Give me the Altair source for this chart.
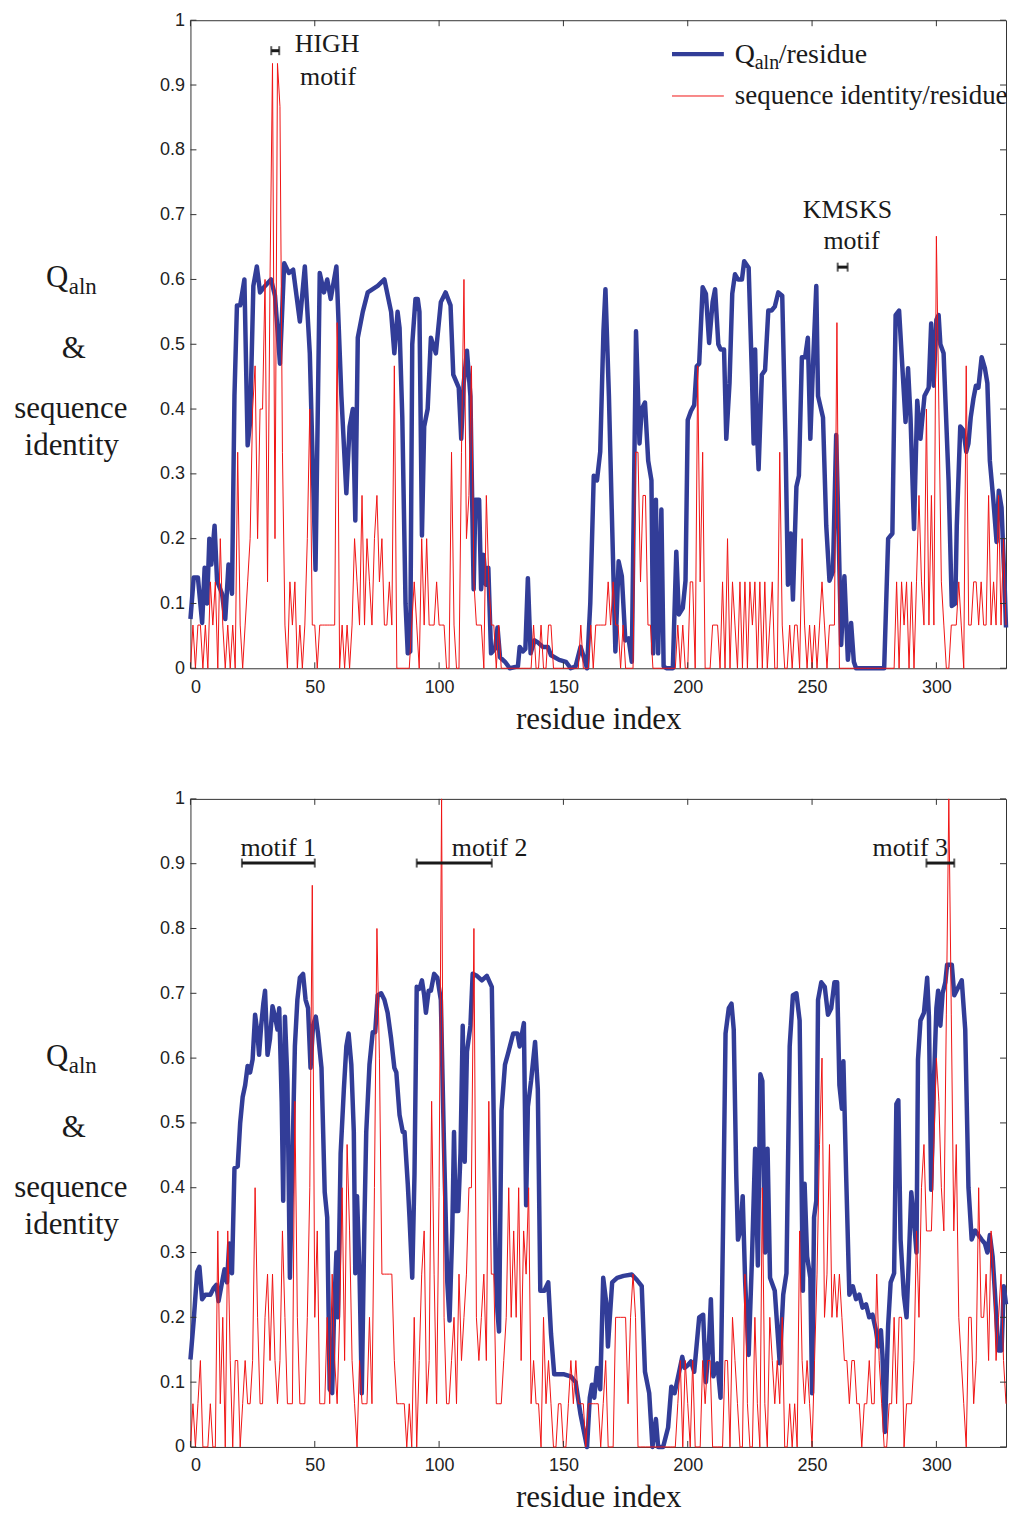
import altair as alt
import pandas as pd

# ---------------- data ----------------
N_RES = 329
residues = list(range(N_RES))

# top panel: Q_aln per residue (blue)
top_q_x = [0, 1.3, 3, 4.7, 5.7, 6.7, 7.6, 8.4, 9.7, 10.7, 12.7, 14, 15.3, 16.7, 17.7, 18.7, 20, 21.7, 23, 24,
           25.3, 26.7, 28, 30, 32.4, 34, 36, 37.7, 39.6, 41.3, 44, 46, 48, 50.3, 52, 53.7, 55, 56.4, 58.7, 60.7,
           62.7, 64, 65.3, 66.3, 67.3, 69.3, 71.3, 73.3, 75.3, 78, 80.7, 82, 83.3, 84.1, 85.2, 86.5, 87.4, 88.4, 89.2, 90.5,
           91.4, 92.1, 93.1, 94, 95.4, 96.7, 98.7, 100.7, 102.6, 104.6, 105.7, 107.9, 108.9, 109.9, 111.2, 112.6, 113.9, 114.6, 116.1, 116.9,
           117.9, 118.8, 119.8, 120.9, 122.5, 123.5, 124.5, 126.5, 128.4, 131.7, 132.4, 133.7, 134.7, 135.7, 136.8, 138.4, 139.7, 141.7, 143.7, 145,
           148.3, 151, 152.9, 154.9, 156.9, 158.2, 159.5, 160.8, 162.2, 163.5, 164.8, 166.1, 166.9, 168.3, 169.6, 170.9, 172.2, 173.5, 174.9, 176.2,
           177.5, 179.2, 180.6, 181.5, 182.8, 184.1, 185.4, 186.1, 187.2, 188.1, 189.4, 190.3, 191.4, 194, 195.4, 196.4, 198, 199.1, 200, 201.3,
           202.6, 203.6, 204.6, 206, 207.3, 208.6, 210, 211, 212.3, 213.2, 214.6, 215.5, 216.8, 217.9, 219, 220.2, 221.8, 222.7, 224.5, 225.8,
           226.5, 227.1, 227.8, 228.5, 229.8, 231.1, 232.4, 233.7, 235, 236.4, 238, 239.3, 240.3, 241.4, 242.3, 243.7, 244.7, 245.9, 247.2, 248.3,
           249.3, 250.4, 251.7, 252.4, 254.4, 255.7, 257, 258.4, 259.7, 260.6, 261.7, 263, 264.4, 265.7, 266.8, 267.7, 279, 280.6, 282.3, 283.6,
           285, 286.3, 287.6, 288.6, 289.6, 291, 292.3, 293.6, 295.2, 296.9, 297.9, 298.9, 300, 300.9, 301.6, 302.9, 304.9, 306.2, 307.6, 308.2,
           309.6, 310.9, 312, 312.9, 313.8, 314.9, 315.9, 316.9, 318.2, 319.5, 320.5, 321.5, 322.9, 324.2, 325.1, 326.2, 327.5, 328]
top_q_y = [0.076, 0.14, 0.14, 0.07, 0.155, 0.1, 0.2, 0.16, 0.22, 0.135, 0.115, 0.076, 0.16, 0.115, 0.42, 0.56, 0.56, 0.6, 0.344, 0.38,
           0.59, 0.62, 0.58, 0.59, 0.6, 0.575, 0.47, 0.625, 0.61, 0.615, 0.535, 0.62, 0.486, 0.152, 0.61, 0.58, 0.6, 0.57, 0.62, 0.42,
           0.27, 0.373, 0.4, 0.228, 0.51, 0.55, 0.58, 0.585, 0.59, 0.6, 0.55, 0.486, 0.55, 0.525, 0.387, 0.1, 0.023, 0.026, 0.5, 0.57,
           0.57, 0.55, 0.205, 0.373, 0.4, 0.51, 0.486, 0.565, 0.58, 0.56, 0.453, 0.433, 0.354, 0.44, 0.49, 0.42, 0.122, 0.26, 0.26, 0.122,
           0.175, 0.129, 0.155, 0.023, 0.03, 0.063, 0.017, 0.01, 0, 0.003, 0.033, 0.026, 0.03, 0.139, 0.023, 0.043, 0.04, 0.033, 0.033, 0.02,
           0.013, 0.01, 0, 0.003, 0.033, 0.017, 0, 0.1, 0.297, 0.29, 0.334, 0.52, 0.585, 0.42, 0.22, 0.026, 0.165, 0.142, 0.043, 0.046,
           0.01, 0.52, 0.347, 0.4, 0.41, 0.32, 0.29, 0.023, 0.26, 0.023, 0.245, 0.003, 0, 0, 0.18, 0.083, 0.093, 0.135, 0.383, 0.397,
           0.406, 0.466, 0.47, 0.588, 0.578, 0.502, 0.565, 0.585, 0.5, 0.492, 0.492, 0.354, 0.44, 0.578, 0.608, 0.6, 0.6, 0.628, 0.618, 0.453,
           0.347, 0.492, 0.37, 0.307, 0.453, 0.46, 0.552, 0.552, 0.558, 0.58, 0.575, 0.354, 0.129, 0.208, 0.106, 0.28, 0.297, 0.48, 0.48, 0.51,
           0.354, 0.47, 0.59, 0.42, 0.387, 0.22, 0.135, 0.149, 0.36, 0.22, 0.036, 0.142, 0.013, 0.07, 0.01, 0, 0, 0.2, 0.208, 0.545,
           0.552, 0.466, 0.38, 0.463, 0.387, 0.215, 0.413, 0.354, 0.42, 0.433, 0.532, 0.436, 0.538, 0.545, 0.5, 0.486, 0.29, 0.096, 0.1, 0.22,
           0.373, 0.367, 0.334, 0.347, 0.387, 0.416, 0.436, 0.433, 0.48, 0.463, 0.44, 0.32, 0.26, 0.195, 0.274, 0.248, 0.122, 0.063]

# top panel: sequence identity per residue, in fifteenths (red)
top_id_k = [0, 1, 0, 1, 1, 0, 1, 0, 2, 1,
            2, 0, 3, 1, 0, 1, 0, 1, 0, 5,
            1, 0, 1, 2, 3, 6, 7, 3, 6, 6,
            9, 2, 9, 14, 3, 14, 13, 5, 1, 0,
            2, 1, 2, 0, 1, 0, 1, 3, 6, 1,
            1, 0, 1, 1, 1, 1, 1, 1, 1, 8,
            0, 1, 0, 1, 0, 1, 3, 2, 1, 4,
            1, 3, 2, 1, 3, 4, 2, 3, 1, 1,
            2, 1, 7, 0, 0, 0, 0, 0, 0, 1,
            2, 1, 0, 3, 1, 3, 1, 1, 1, 2,
            1, 1, 1, 0, 0, 5, 1, 0, 0, 5,
            9, 3, 4, 7, 2, 1, 1, 1, 0, 4,
            2, 1, 1, 0, 1, 0, 0, 0, 0, 0,
            0, 0, 0, 0, 0, 0, 0, 0, 1, 0,
            0, 1, 0, 0, 1, 1, 0, 0, 0, 0,
            0, 0, 0, 0, 0, 0, 0, 1, 0, 0,
            0, 1, 0, 1, 1, 1, 1, 1, 2, 1,
            2, 1, 1, 0, 1, 0, 0, 0, 0, 5,
            5, 2, 4, 4, 1, 1, 0, 0, 0, 0,
            0, 0, 0, 0, 0, 0, 1, 0, 1, 0,
            0, 2, 2, 0, 7, 2, 5, 0, 0, 0,
            1, 1, 1, 0, 2, 0, 3, 0, 2, 1,
            0, 2, 0, 2, 0, 2, 1, 2, 0, 2,
            0, 2, 0, 1, 2, 0, 0, 5, 1, 0,
            0, 1, 0, 1, 1, 0, 3, 1, 0, 1,
            0, 1, 0, 1, 2, 1, 0, 1, 1, 1,
            8, 0, 0, 0, 0, 0, 0, 0, 0, 0,
            0, 0, 0, 0, 0, 0, 0, 0, 0, 0,
            0, 0, 0, 0, 2, 0, 2, 1, 2, 0,
            2, 0, 2, 4, 2, 1, 6, 1, 4, 1,
            10, 6, 2, 1, 0, 0, 1, 1, 1, 2,
            1, 0, 7, 1, 1, 2, 2, 1, 2, 1,
            1, 4, 1, 2, 1, 4, 1, 3, 1]

# bottom panel: Q_aln per residue (blue)
bot_q_x = [0, 1.3, 2.7, 3.6, 4.7, 6, 8, 9.3, 10.4, 11.3, 12.7, 13.7, 14.7, 15.6, 16.7, 17.7, 19, 20, 21, 22,
           23, 24, 25, 26, 26.9, 27.6, 28.4, 29.3, 30, 31, 32, 33, 34, 35, 35.7, 36.7, 37.3, 38, 39, 40,
           41, 42, 43, 44, 45.3, 46.3, 47.3, 48.3, 49.3, 50.4, 51.3, 52.7, 54, 55, 56, 57, 57.7, 58.7, 59.3, 60.4,
           61.7, 62.7, 63.6, 64.7, 65.7, 66.3, 67, 68, 68.9, 70, 70.7, 72, 73.3, 74.3, 75.3, 76.7, 78, 79.3, 80.7, 82,
           82.8, 84.1, 85.4, 86.1, 87.4, 88.1, 89.2, 90.1, 91, 92.1, 93.1, 94, 94.7, 95.8, 96.7, 98, 99.3, 100.7, 102, 103.3,
           104.2, 105.3, 106, 106.6, 107.7, 108.6, 109.5, 110.3, 111.2, 112.6, 113.5, 115.2, 117.2, 119.2, 121.2, 121.8, 122.8, 123.5, 124.1, 125.1,
           126.5, 127.8, 129.8, 131.5, 132.4, 134.1, 135, 135.7, 137, 138.6, 139.7, 140.7, 142.3, 143.9, 145, 146.3, 150.3, 152.9, 154.9, 156.9,
           159.5, 160.6, 161.5, 162.4, 163.5, 164.8, 166, 167.3, 167.9, 169.6, 171.6, 174.2, 177.5, 179.5, 181.5, 182.8, 184.5, 185.8, 187.2, 188.1,
           190.1, 192.1, 193.4, 194.7, 196, 197.8, 198.7, 200, 201.3, 202.6, 204.6, 206.2, 207.3, 208.6, 209.3, 210.3, 211.9, 213.2, 214.2, 215.2,
           216.5, 217.6, 218.5, 219.5, 220.2, 221.2, 222.1, 223.1, 224.5, 225.8, 227.1, 228.2, 229.2, 230, 231.1, 232.1, 233.1, 235, 237, 238.4,
           239.7, 241, 242.3, 243.7, 245, 246.3, 247, 248, 249.3, 250, 250.8, 251.7, 252.4, 253.7, 255.1, 256.4, 257.7, 259, 260.1, 261,
           262, 262.6, 263.7, 265, 266.4, 267.7, 269, 270.3, 271.7, 273, 274.3, 275.7, 276.6, 277.7, 278.3, 279.3, 280.6, 281.6, 283, 283.9,
           284.7, 285.6, 286.9, 288, 288.9, 289.9, 290.9, 292, 292.6, 293.6, 295, 296.3, 297, 297.9, 298.9, 300, 300.7, 301.6, 302.5, 303.6,
           304.3, 306.2, 307.2, 308.5, 310.2, 311.6, 312.9, 314.2, 315.6, 316.9, 318.2, 319.5, 320.5, 321.5, 322.6, 323.5, 324.9, 326.2, 327.1, 328]
bot_q_y = [0.135, 0.195, 0.27, 0.278, 0.228, 0.235, 0.235, 0.245, 0.25, 0.225, 0.254, 0.274, 0.254, 0.314, 0.268, 0.43, 0.433, 0.5, 0.54, 0.558,
           0.588, 0.578, 0.598, 0.667, 0.64, 0.605, 0.648, 0.684, 0.704, 0.605, 0.63, 0.68, 0.664, 0.644, 0.677, 0.532, 0.38, 0.664, 0.565, 0.261,
           0.44, 0.618, 0.69, 0.724, 0.73, 0.69, 0.677, 0.585, 0.65, 0.664, 0.638, 0.585, 0.393, 0.354, 0.089, 0.083, 0.2, 0.3, 0.2, 0.453,
           0.552, 0.618, 0.638, 0.59, 0.486, 0.268, 0.387, 0.268, 0.083, 0.354, 0.486, 0.59, 0.64, 0.64, 0.697, 0.7, 0.69, 0.67, 0.63, 0.585,
           0.578, 0.512, 0.486, 0.486, 0.406, 0.354, 0.261, 0.42, 0.71, 0.707, 0.72, 0.697, 0.67, 0.704, 0.704, 0.73, 0.724, 0.69, 0.46, 0.254,
           0.195, 0.334, 0.486, 0.364, 0.364, 0.453, 0.65, 0.44, 0.61, 0.65, 0.73, 0.727, 0.72, 0.727, 0.71, 0.552, 0.268, 0.208, 0.178, 0.519,
           0.59, 0.608, 0.638, 0.638, 0.618, 0.654, 0.373, 0.525, 0.565, 0.625, 0.552, 0.241, 0.241, 0.254, 0.175, 0.112, 0.112, 0.109, 0.1, 0.05,
           0, 0.076, 0.096, 0.076, 0.122, 0.089, 0.261, 0.22, 0.155, 0.254, 0.261, 0.264, 0.266, 0.258, 0.248, 0.116, 0.083, 0, 0.043, 0,
           0, 0.03, 0.093, 0.083, 0.106, 0.139, 0.122, 0.126, 0.132, 0.116, 0.2, 0.204, 0.1, 0.165, 0.228, 0.109, 0.129, 0.076, 0.34, 0.638,
           0.677, 0.684, 0.644, 0.42, 0.32, 0.334, 0.387, 0.254, 0.142, 0.287, 0.46, 0.28, 0.575, 0.565, 0.3, 0.46, 0.261, 0.241, 0.129, 0.235,
           0.268, 0.618, 0.697, 0.7, 0.658, 0.241, 0.406, 0.294, 0.261, 0.083, 0.354, 0.38, 0.69, 0.717, 0.71, 0.667, 0.677, 0.717, 0.717, 0.558,
           0.522, 0.595, 0.42, 0.235, 0.248, 0.228, 0.235, 0.215, 0.22, 0.2, 0.204, 0.18, 0.155, 0.18, 0.142, 0.023, 0.188, 0.254, 0.268, 0.529,
           0.535, 0.32, 0.235, 0.2, 0.287, 0.393, 0.354, 0.3, 0.598, 0.658, 0.67, 0.724, 0.664, 0.397, 0.552, 0.677, 0.704, 0.65, 0.7, 0.717,
           0.744, 0.744, 0.697, 0.707, 0.72, 0.644, 0.4, 0.32, 0.334, 0.327, 0.32, 0.314, 0.3, 0.327, 0.294, 0.241, 0.149, 0.149, 0.248, 0.22]

# bottom panel: sequence identity per residue, in fifteenths (red)
bot_id_k = [0, 1, 0, 1, 2, 0, 0, 0, 1, 0,
            0, 5, 1, 3, 0, 5, 2, 0, 2, 2,
            0, 1, 2, 1, 1, 2, 6, 3, 1, 1,
            3, 4, 2, 4, 2, 1, 2, 5, 3, 1,
            1, 1, 8, 3, 1, 1, 1, 3, 6, 13,
            3, 5, 1, 1, 1, 3, 1, 4, 2, 1,
            3, 6, 2, 7, 5, 2, 1, 0, 2, 1,
            1, 1, 3, 1, 6, 12, 9, 4, 4, 4,
            4, 4, 2, 1, 1, 1, 1, 0, 1, 0,
            3, 0, 2, 4, 5, 1, 2, 8, 4, 1,
            6, 15, 3, 1, 1, 2, 3, 1, 4, 2,
            3, 4, 6, 6, 12, 3, 2, 3, 4, 2,
            8, 4, 4, 1, 1, 1, 2, 3, 6, 3,
            5, 3, 6, 2, 5, 4, 6, 1, 2, 1,
            1, 0, 3, 1, 2, 1, 0, 0, 1, 1,
            0, 0, 1, 2, 1, 2, 1, 1, 1, 0,
            1, 1, 1, 1, 1, 0, 1, 2, 0, 0,
            0, 3, 3, 3, 3, 3, 1, 3, 4, 3,
            0, 0, 0, 0, 0, 0, 0, 0, 0, 0,
            0, 0, 0, 0, 0, 0, 1, 2, 0, 2,
            1, 0, 2, 0, 0, 0, 2, 1, 2, 2,
            0, 0, 0, 0, 0, 2, 2, 0, 3, 2,
            1, 0, 0, 4, 1, 0, 0, 3, 1, 0,
            6, 1, 0, 3, 2, 1, 2, 1, 3, 0,
            0, 1, 0, 1, 0, 5, 2, 1, 2, 1,
            0, 2, 4, 7, 9, 3, 4, 7, 3, 4,
            3, 4, 3, 2, 2, 1, 2, 2, 1, 1,
            0, 1, 1, 2, 1, 1, 4, 2, 1, 0,
            0, 1, 1, 3, 1, 3, 3, 0, 1, 1,
            1, 2, 5, 3, 6, 7, 5, 5, 5, 7,
            9, 8, 6, 5, 10, 15, 10, 5, 7, 3,
            2, 1, 0, 3, 3, 1, 2, 6, 3, 3,
            4, 2, 5, 4, 2, 3, 4, 2, 1]
N_SEQ = 15

# motif ranges (residue start, end, height on the y scale)
top_motif_start = [32.5, 260.3]
top_motif_end = [35.7, 264.3]
top_motif_level = [0.953, 0.619]
bot_motif_start = [20.7, 91.0, 296.0]
bot_motif_end = [50.0, 121.2, 307.2]
bot_motif_level = [0.901, 0.901, 0.901]

x_tick_values = [0, 50, 100, 150, 200, 250, 300]
y_tick_values = [0, 0.1, 0.2, 0.3, 0.4, 0.5, 0.6, 0.7, 0.8, 0.9, 1]

# ---------------- styling ----------------
W, H = 818, 650
BLUE = "#323d98"
RED = "#f01414"
INK = "#1a1a1a"
SERIF = "Liberation Serif"
SANS = "Liberation Sans"
TICK = 6

xs = alt.Scale(domain=[0, 328], nice=False, zero=False)
ys = alt.Scale(domain=[0, 1], nice=False, zero=False)
X_AX = alt.Axis(values=x_tick_values, title="residue index", ticks=False, domain=False,
                grid=False, labelPadding=10, titlePadding=8)
Y_AX = alt.Axis(values=y_tick_values, format=".1~f", title=None, ticks=False, domain=False,
                grid=False, labelPadding=6)


def X(field):
    return alt.X(field, scale=xs, axis=X_AX)


def Y(field):
    return alt.Y(field, scale=ys, axis=Y_AX)


def text_layer(txt, px, py, size=26, align="center", baseline="alphabetic"):
    return alt.Chart(pd.DataFrame({"t": [txt]})).mark_text(
        font=SERIF, fontSize=size, color=INK, align=align, baseline=baseline
    ).encode(text="t:N", x=alt.value(px), y=alt.value(py))


def panel(q_x, q_y, id_k, m_start, m_end, m_level, extra):
    q_df = pd.DataFrame({"residue": q_x, "q": q_y})
    id_df = pd.DataFrame({"residue": residues, "identity": [k / N_SEQ for k in id_k]})
    xt = pd.DataFrame({"v": x_tick_values})
    yt = pd.DataFrame({"v": y_tick_values})
    mot = pd.DataFrame({"start": m_start, "end": m_end, "level": m_level})
    caps = pd.DataFrame({"pos": m_start + m_end, "level": m_level + m_level})

    blue = alt.Chart(q_df).mark_line(color=BLUE, strokeWidth=4.5, strokeJoin="round").encode(
        x=X("residue:Q"), y=Y("q:Q"))
    red = alt.Chart(id_df).mark_line(color=RED, strokeWidth=1).encode(
        x=X("residue:Q"), y=Y("identity:Q"))
    tick_style = dict(color="#333333", strokeWidth=1)
    t_left = alt.Chart(yt).mark_rule(**tick_style).encode(
        y=Y("v:Q"), x=alt.value(0), x2=alt.value(TICK))
    t_right = alt.Chart(yt).mark_rule(**tick_style).encode(
        y=Y("v:Q"), x=alt.value(W - TICK), x2=alt.value(W))
    t_bottom = alt.Chart(xt).mark_rule(**tick_style).encode(
        x=X("v:Q"), y=alt.value(H), y2=alt.value(H - TICK))
    t_top = alt.Chart(xt).mark_rule(**tick_style).encode(
        x=X("v:Q"), y=alt.value(0), y2=alt.value(TICK))
    bars = alt.Chart(mot).mark_rule(color=INK, strokeWidth=3).encode(
        x=X("start:Q"), x2="end:Q", y=Y("level:Q"))
    cap = alt.Chart(caps).mark_tick(color=INK, orient="vertical", size=9, thickness=2).encode(
        x=X("pos:Q"), y=Y("level:Q"))

    # left axis label: Q_aln & sequence identity
    left = [
        text_layer("Q", -145, 268, size=31, align="left"),
        text_layer("aln", -122, 275, size=23, align="left"),
        text_layer("&", -117, 339, size=31),
        text_layer("sequence", -120, 399, size=31),
        text_layer("identity", -119, 436, size=31),
    ]
    return alt.layer(blue, red, t_left, t_right, t_bottom, t_top, bars, cap, *left, *extra).properties(
        width=W, height=H)


top_extra = [
    text_layer("HIGH", 137, 32),
    text_layer("motif", 138, 65),
    text_layer("KMSKS", 659, 198),
    text_layer("motif", 663, 229),
    # legend
    alt.Chart(pd.DataFrame({"s": ["Q"]})).mark_rule(color=BLUE, strokeWidth=4.5).encode(
        x=alt.value(483), x2=alt.value(535), y=alt.value(34)),
    alt.Chart(pd.DataFrame({"s": ["id"]})).mark_rule(color=RED, strokeWidth=1).encode(
        x=alt.value(483), x2=alt.value(535), y=alt.value(76)),
    text_layer("Q", 546, 43, size=28, align="left"),
    text_layer("aln", 566, 49, size=20, align="left"),
    text_layer("/residue", 590, 43, size=28, align="left"),
    text_layer("sequence identity/residue", 546, 84, size=27, align="left"),
]
bot_extra = [
    text_layer("motif 1", 88, 57),
    text_layer("motif 2", 300, 57),
    text_layer("motif 3", 722, 57),
]

top = panel(top_q_x, top_q_y, top_id_k, top_motif_start, top_motif_end, top_motif_level, top_extra)
bottom = panel(bot_q_x, bot_q_y, bot_id_k, bot_motif_start, bot_motif_end, bot_motif_level, bot_extra)

chart = alt.vconcat(top, bottom, spacing=54).properties(
    padding={"left": 5, "right": 0, "top": 0, "bottom": 0}
).configure_view(stroke="#333333", strokeWidth=1).configure_axis(
    labelFont=SANS, labelFontSize=18, labelColor="#222222",
    titleFont=SERIF, titleFontSize=31, titleFontWeight="normal", titleColor=INK,
)

chart.save("out.html", embed_options={"renderer": "svg", "actions": False})
